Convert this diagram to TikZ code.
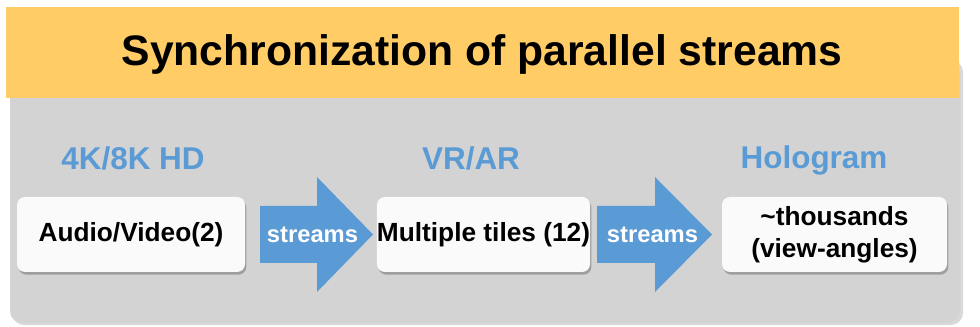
\documentclass[tikz,border=0pt]{standalone}
\usepackage{fontspec}
\setmainfont{Liberation Sans}
\usetikzlibrary{shadows}
\definecolor{banner}{RGB}{255,204,102}
\definecolor{panel}{RGB}{211,211,211}
\definecolor{accent}{RGB}{91,155,213}
\definecolor{card}{RGB}{250,250,250}
\tikzset{
  stage/.style={font=\fontsize{23.6pt}{26pt}\selectfont\bfseries, text=accent},
  card/.style={rectangle, rounded corners=6pt, fill=card, inner sep=0pt,
    minimum height=56.25pt, align=center,
    font=\fontsize{19.7pt}{24pt}\selectfont\bfseries,
    drop shadow={shadow xshift=1pt, shadow yshift=-2pt, fill=black, opacity=0.25}},
  flowbody/.style={fill=accent},
  flowtext/.style={text=white, inner sep=0pt, font=\fontsize{17.8pt}{20pt}\selectfont\bfseries},
}
% block arrow: body from #1 to the head start #2, tip at #3, centred on y=#4
\newcommand\blockarrow[4]{%
  \fill[flowbody] (#1,#4-28.5) -- (#2,#4-28.5) -- (#2,#4-57.5) -- (#3,#4)
    -- (#2,#4+57.5) -- (#2,#4+28.5) -- (#1,#4+28.5) -- cycle;}
\begin{document}
\begin{tikzpicture}[x=0.75pt, y=-0.75pt]
  \useasboundingbox (0,0) rectangle (980,327);
  % grey panel behind everything, rounded at the bottom
  \fill[black, opacity=0.15, rounded corners=9pt] (12,60) rectangle (963,325);
  \fill[panel, rounded corners=9pt] (10,60) rectangle (960,323);
  % title banner
  \fill[banner] (6,7) rectangle (959,98);
  \node[font=\fontsize{32pt}{36pt}\selectfont\bfseries] (title) at (482,54) {Synchronization of parallel streams};
  % stage labels
  \node[stage] (hd) at (133,158) {4K/8K HD};
  \node[stage] (vr) at (471,158) {VR/AR};
  \node[stage] (holo) at (814,160) {Hologram};
  % stream arrows between the cards
  \blockarrow{260}{317}{373}{234.5}
  \blockarrow{597}{655}{712}{234.5}
  \node[flowtext] (s1) at (312.5,235) {streams};
  \node[flowtext] (s2) at (652.5,235) {streams};
  % cards
  \node[card, minimum width=171pt] (av) at (131,234.5) {Audio/Video(2)};
  \node[card, minimum width=152.25pt] (tiles) at (483.5,234.5) {Multiple tiles (12)};
  \node[card, minimum width=168.75pt] (thou) at (834.5,234.5) {\textasciitilde thousands\\(view-angles)};
\end{tikzpicture}
\end{document}
